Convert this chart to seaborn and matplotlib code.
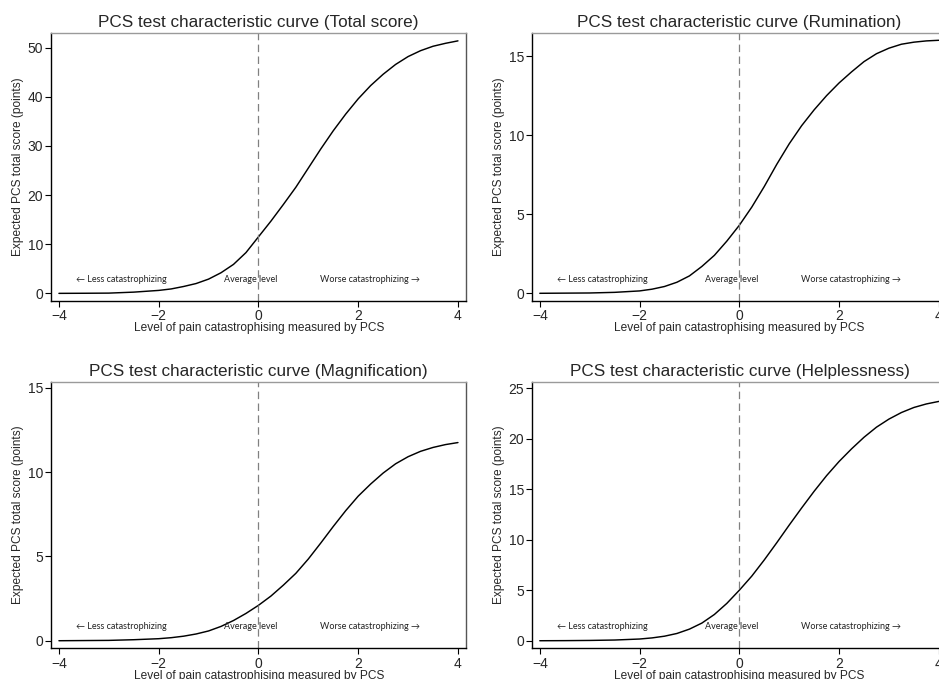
import numpy as np
import pandas as pd
import matplotlib
matplotlib.use("Agg")
import matplotlib.pyplot as plt
import matplotlib.transforms as mtransforms
import seaborn as sns

# Latent trait grid (theta) and expected scores on each PCS scale
theta = [-4.0, -3.5, -3.0, -2.5, -2.0, -1.75, -1.5, -1.25, -1.0, -0.75, -0.5, -0.25,
         0.0, 0.25, 0.5, 0.75, 1.0, 1.25, 1.5, 1.75, 2.0, 2.25, 2.5, 2.75,
         3.0, 3.25, 3.5, 3.75, 4.0]

total_score = [0.0, 0.02, 0.05, 0.25, 0.6, 0.9, 1.4, 2.0, 2.9, 4.2, 5.9, 8.3,
               11.5, 14.7, 18.1, 21.6, 25.5, 29.4, 33.1, 36.5, 39.6, 42.3, 44.6, 46.6,
               48.2, 49.4, 50.3, 50.9, 51.4]

rumination = [0.0, 0.01, 0.02, 0.06, 0.15, 0.26, 0.43, 0.7, 1.1, 1.7, 2.4, 3.3,
              4.3, 5.45, 6.75, 8.15, 9.45, 10.6, 11.6, 12.5, 13.3, 14.0, 14.65, 15.15,
              15.5, 15.75, 15.88, 15.96, 16.0]

magnification = [0.0, 0.01, 0.02, 0.06, 0.12, 0.18, 0.27, 0.4, 0.58, 0.85, 1.2, 1.62,
                 2.1, 2.65, 3.3, 4.0, 4.85, 5.8, 6.78, 7.72, 8.58, 9.3, 9.95, 10.5,
                 10.92, 11.24, 11.47, 11.64, 11.76]

helplessness = [0.0, 0.01, 0.03, 0.07, 0.17, 0.28, 0.45, 0.72, 1.15, 1.75, 2.6, 3.7,
                5.0, 6.4, 8.0, 9.7, 11.45, 13.15, 14.8, 16.35, 17.75, 19.0, 20.15, 21.15,
                21.95, 22.6, 23.1, 23.45, 23.7]

panel_titles = [
    "PCS test characteristic curve (Total score)",
    "PCS test characteristic curve (Rumination)",
    "PCS test characteristic curve (Magnification)",
    "PCS test characteristic curve (Helplessness)",
]
panel_values = [total_score, rumination, magnification, helplessness]
y_ticks = [[0, 10, 20, 30, 40, 50], [0, 5, 10, 15], [0, 5, 10, 15],
           [0, 5, 10, 15, 20, 25]]
y_limits = [(-1.5, 53.0), (-0.47, 16.46), (-0.45, 15.37), (-0.75, 25.65)]
x_ticks = [-4, -2, 0, 2, 4]

x_label = "Level of pain catastrophising measured by PCS"
y_label = "Expected PCS total score (points)"
region_labels = ["\u2190 Less catastrophizing", "Average level",
                 "Worse catastrophizing \u2192"]
region_x = [-2.75, -0.15, 2.24]

sns.set_theme(style="ticks")
plt.rcParams["font.family"] = ["Liberation Sans", "DejaVu Sans"]
plt.rcParams["axes.unicode_minus"] = True

fig = plt.figure(figsize=(9.39, 6.79), dpi=100)
fig.patch.set_facecolor("white")

# axes rectangles (left, bottom, width, height) in figure fraction
rects = [
    (0.0548, 0.5571, 0.4414, 0.3943),
    (0.5669, 0.5571, 0.4414, 0.3943),
    (0.0548, 0.0452, 0.4414, 0.3926),
    (0.5669, 0.0452, 0.4414, 0.3926),
]

for i, rect in enumerate(rects):
    ax = fig.add_axes(rect)
    df = pd.DataFrame({"theta": theta, "score": panel_values[i]})
    sns.lineplot(data=df, x="theta", y="score", ax=ax, color="black",
                 linewidth=1.05, sort=True)
    ax.axvline(0, color="#808080", linestyle=(0, (6, 3.5)), linewidth=0.9)

    ax.set_xlim(-4.15, 4.16)
    ax.set_ylim(*y_limits[i])
    ax.set_xticks(x_ticks)
    ax.set_yticks(y_ticks[i])
    ax.tick_params(axis="both", direction="out", length=4, width=0.8,
                   labelsize=10, color="black", pad=2)
    ax.set_xlabel(x_label, fontsize=8.6, labelpad=-0.5)
    ax.set_ylabel(y_label, fontsize=8.6, labelpad=2.5)
    ax.set_title(panel_titles[i], fontsize=12.3, pad=4)

    for side in ("left", "bottom"):
        ax.spines[side].set_color("black")
        ax.spines[side].set_linewidth(1.0)
    ax.spines["top"].set_color("#9a9a9a")
    ax.spines["right"].set_color("#555555")
    ax.spines["top"].set_linewidth(1.0)
    ax.spines["right"].set_linewidth(1.0)
    ax.set_facecolor("white")

    trans = mtransforms.blended_transform_factory(ax.transData, ax.transAxes)
    for lbl, xv in zip(region_labels, region_x):
        ax.text(xv, 0.081, lbl, transform=trans, ha="center", va="center",
                fontsize=6.5, family=["Lato", "DejaVu Sans"], color="#222222")

fig.savefig("out.png", dpi=100, facecolor="white")
